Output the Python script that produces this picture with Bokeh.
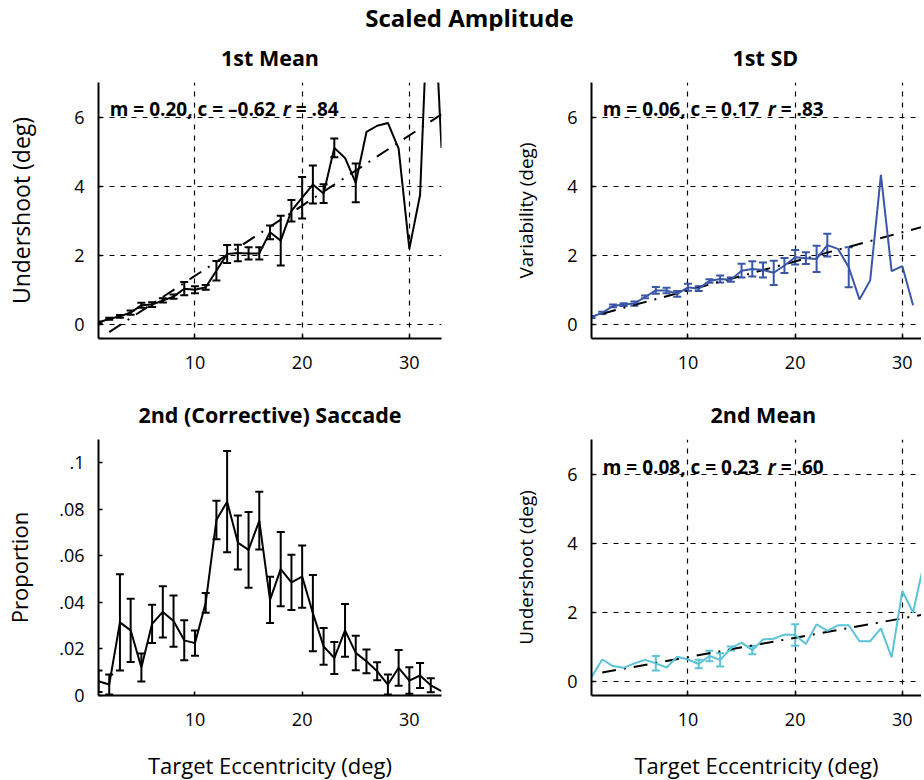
from bokeh.plotting import figure
from bokeh.models import (ColumnDataSource, Whisker, TeeHead, FixedTicker, Label, Div,
                          CustomJSTickFormatter, Range1d)
from bokeh.layouts import column, row
from bokeh.embed import file_html
from bokeh.resources import INLINE

FONT = "Open Sans"

# ---------------- data ----------------
ecc_1st = list(range(1, 34))
mean_1st = [0.06, 0.17, 0.24, 0.35, 0.56, 0.58, 0.70, 0.81, 1.04, 1.01, 1.08, 1.56, 2.04, 2.07,
            2.06, 2.06, 2.67, 2.43, 3.29, 3.67, 4.05, 3.79, 5.11, 4.82, 4.10, 5.57, 5.75, 5.83,
            5.09, 2.19, 3.75, 11.4, 5.11]
mean_1st_err = [0.03, 0.03, 0.04, 0.06, 0.07, 0.07, 0.06, 0.06, 0.19, 0.10, 0.07, 0.28, 0.26, 0.24,
                0.18, 0.18, 0.20, 0.72, 0.31, 0.60, 0.55, 0.27, 0.27, 0, 0.56, 0, 0, 0,
                0, 0, 0, 0, 0]

ecc_sd = list(range(1, 32))
sd_1st = [0.22, 0.34, 0.54, 0.58, 0.61, 0.80, 0.99, 0.99, 0.89, 1.08, 1.04, 1.26, 1.32, 1.30,
          1.56, 1.61, 1.58, 1.50, 1.71, 1.95, 1.92, 1.90, 2.30, 2.19, 1.66, 0.73, 1.28, 4.33,
          1.55, 1.69, 0.56]
sd_1st_err = [0.03, 0.03, 0.04, 0.04, 0.06, 0.04, 0.10, 0.08, 0.08, 0.10, 0.07, 0.05, 0.10, 0.06,
              0.20, 0.22, 0.22, 0.35, 0.22, 0.21, 0.17, 0.38, 0.33, 0, 0.58, 0, 0, 0,
              0, 0, 0]

ecc_prop = list(range(1, 34))
prop_2nd = [0.0061, 0.0047, 0.0314, 0.0280, 0.0120, 0.0308, 0.0359, 0.0320, 0.0237, 0.0225,
            0.0398, 0.0754, 0.0833, 0.0657, 0.0626, 0.0751, 0.0411, 0.0543, 0.0486, 0.0511,
            0.0354, 0.0211, 0.0161, 0.0280, 0.0183, 0.0147, 0.0104, 0.0047, 0.0119, 0.0064,
            0.0086, 0.0044, 0.0019]
prop_2nd_err = [0.0046, 0.0043, 0.0207, 0.0136, 0.0060, 0.0082, 0.0110, 0.0110, 0.0086, 0.0054,
                0.0042, 0.0083, 0.0218, 0.0116, 0.0163, 0.0124, 0.0099, 0.0160, 0.0119, 0.0134,
                0.0164, 0.0079, 0.0069, 0.0113, 0.0074, 0.0051, 0.0039, 0.0043, 0.0077, 0.0057,
                0.0054, 0.0030, 0]

ecc_2nd = list(range(1, 33))
mean_2nd = [0.13, 0.64, 0.45, 0.40, 0.53, 0.63, 0.53, 0.41, 0.72, 0.64, 0.51, 0.74, 0.63, 0.96,
            1.13, 0.91, 1.22, 1.24, 1.36, 1.35, 1.09, 1.66, 1.47, 1.63, 1.63, 1.17, 1.17, 1.54,
            0.70, 2.62, 2.00, 3.41]
mean_2nd_err = [0, 0, 0, 0, 0, 0, 0.21, 0, 0, 0, 0.12, 0.15, 0.19, 0.06, 0, 0.12, 0, 0, 0, 0.31,
                0, 0, 0, 0, 0, 0, 0, 0, 0, 0, 0, 0]

# regression lines (slope, intercept) as drawn, and their x extent
fit_x = [2, 33]
fit_1st_mean = (0.203, -0.62)
fit_1st_sd = (0.084, 0.15)
fit_2nd_mean = (0.056, 0.15)

stat_1st_mean = ["m = 0.20, c = \u20130.62", "r", "= .84"]
stat_1st_sd = ["m = 0.06, c = 0.17", "r", "= .83"]
stat_2nd_mean = ["m = 0.08, c = 0.23", "r", "= .60"]

x_ticks = [10, 20, 30]
deg_ticks = [0, 2, 4, 6]
prop_ticks = [0, 0.02, 0.04, 0.06, 0.08, 0.1]

BLUE = "#3a56a6"
CYAN = "#5cc3d6"

RIGHT_W = 330
RIGHT_END = 1 + RIGHT_W / 343 * 32


def panel(frame_w, x_end, y_rng, y_ticks, left, right, bottom, grid=True):
    p = figure(frame_width=frame_w, frame_height=256,
               x_range=Range1d(1, x_end), y_range=Range1d(*y_rng),
               min_border_left=left, min_border_right=right,
               min_border_top=44, min_border_bottom=bottom,
               output_backend="svg", toolbar_location=None)
    p.outline_line_color = None
    p.background_fill_color = "white"
    p.border_fill_color = "white"
    for ax in (p.xaxis[0], p.yaxis[0]):
        ax.axis_line_width = 2
        ax.axis_line_color = "black"
        ax.major_tick_in = 4
        ax.major_tick_out = 0
        ax.major_tick_line_width = 1.5
        ax.minor_tick_line_color = None
        ax.major_label_text_font = FONT
        ax.major_label_text_font_size = "18px"
        ax.major_label_text_color = "black"
        ax.axis_label_text_font = FONT
        ax.axis_label_text_font_style = "normal"
        ax.axis_label_text_color = "black"
    p.xaxis.major_label_standoff = 17
    p.yaxis.major_label_standoff = 14
    p.xaxis.ticker = FixedTicker(ticks=x_ticks)
    p.yaxis.ticker = FixedTicker(ticks=y_ticks)
    if grid:
        p.xgrid.ticker = FixedTicker(ticks=x_ticks)
        p.ygrid.ticker = FixedTicker(ticks=y_ticks)
        for g in (p.xgrid[0], p.ygrid[0]):
            g.grid_line_color = "black"
            g.grid_line_dash = "5 6"
            g.grid_line_width = 1.2
    else:
        p.xgrid.grid_line_color = None
        p.ygrid.grid_line_color = None
    return p


def set_title(p, text, align="center", offset=0):
    p.title.text = text
    p.title.align = align
    p.title.offset = offset
    p.title.text_font = FONT
    p.title.text_font_size = "21.5px"
    p.title.text_font_style = "bold"
    p.title.text_color = "black"
    p.title.standoff = 21


def errorbars(p, xs, ys, es, color):
    bx = [x for x, e in zip(xs, es) if e > 0]
    lo = [y - e for y, e in zip(ys, es) if e > 0]
    hi = [y + e for y, e in zip(ys, es) if e > 0]
    src = ColumnDataSource(dict(x=bx, lo=lo, hi=hi))
    w = Whisker(base="x", lower="lo", upper="hi", source=src, line_color=color, line_width=2,
                upper_head=TeeHead(size=8, line_color=color, line_width=2),
                lower_head=TeeHead(size=8, line_color=color, line_width=2))
    p.add_layout(w)


def fit_line(p, fit):
    m, c = fit
    p.line(fit_x, [m * x + c for x in fit_x], line_color="black", line_width=2,
           line_dash="14 8 2 8")


def stat_text(p, x, y, parts, off_r, off_rest):
    common = dict(x=x, y=y, text_font=FONT, text_font_size="19px", text_color="black",
                  text_baseline="alphabetic", text_align="left")
    p.add_layout(Label(text=parts[0], x_offset=0, text_font_style="bold", **common))
    p.add_layout(Label(text=parts[1], x_offset=off_r, text_font_style="bold italic", **common))
    p.add_layout(Label(text=parts[2], x_offset=off_rest, text_font_style="bold", **common))


# ---------- panel 1: 1st Mean ----------
p1 = panel(343, 33, (-0.4, 7), deg_ticks, 98, 57, 49)
set_title(p1, "1st Mean")
p1.yaxis.axis_label = "Undershoot (deg)"
p1.yaxis.axis_label_text_font_size = "23px"
p1.yaxis.axis_label_standoff = 34
fit_line(p1, fit_1st_mean)
p1.line(ecc_1st, mean_1st, line_color="black", line_width=2)
errorbars(p1, ecc_1st, mean_1st, mean_1st_err, "black")
stat_text(p1, 2.05, 6.22, stat_1st_mean, 173, 186)

# ---------- panel 2: 1st SD ----------
p2 = panel(RIGHT_W, RIGHT_END, (-0.4, 7), deg_ticks, 93, 0, 49)
set_title(p2, "1st SD", "left", 141)
p2.yaxis.axis_label = "Variability (deg)"
p2.yaxis.axis_label_text_font_size = "19px"
p2.yaxis.axis_label_standoff = 25
fit_line(p2, fit_1st_sd)
p2.line(ecc_sd, sd_1st, line_color=BLUE, line_width=2)
errorbars(p2, ecc_sd, sd_1st, sd_1st_err, BLUE)
stat_text(p2, 2.05, 6.22, stat_1st_sd, 165, 178)

# ---------- panel 3: 2nd (Corrective) Saccade ----------
p3 = panel(343, 33, (0, 0.11), prop_ticks, 98, 57, 80, grid=False)
set_title(p3, "2nd (Corrective) Saccade")
p3.yaxis.formatter = CustomJSTickFormatter(
    code="if (tick == 0) { return '0'; } return tick.toFixed(2).replace(/^0/, '').replace(/0$/, '');")
p3.yaxis.axis_label = "Proportion"
p3.yaxis.axis_label_text_font_size = "22px"
p3.yaxis.axis_label_standoff = 22
p3.xaxis.axis_label = "Target Eccentricity (deg)"
p3.xaxis.axis_label_text_font_size = "22px"
p3.xaxis.axis_label_standoff = 21
p3.line(ecc_prop, prop_2nd, line_color="black", line_width=2)
errorbars(p3, ecc_prop, prop_2nd, prop_2nd_err, "black")

# ---------- panel 4: 2nd Mean ----------
p4 = panel(RIGHT_W, RIGHT_END, (-0.4, 7), deg_ticks, 93, 0, 80)
set_title(p4, "2nd Mean", "left", 119)
p4.yaxis.axis_label = "Undershoot (deg)"
p4.yaxis.axis_label_text_font_size = "19px"
p4.yaxis.axis_label_standoff = 25
p4.xaxis.axis_label = "Target Eccentricity (deg)"
p4.xaxis.axis_label_text_font_size = "22px"
p4.xaxis.axis_label_standoff = 21
fit_line(p4, fit_2nd_mean)
p4.line(ecc_2nd, mean_2nd, line_color=CYAN, line_width=2)
errorbars(p4, ecc_2nd, mean_2nd, mean_2nd_err, CYAN)
stat_text(p4, 2.05, 6.2, stat_2nd_mean, 165, 178)

title_div = Div(
    text=("<div style=\"width:915px;box-sizing:border-box;padding-left:14px;text-align:center;"
          "font-family:'Open Sans';font-weight:bold;font-size:24px;line-height:26px;color:black\">"
          "Scaled Amplitude</div>"),
    width=915, height=20)

layout = column(title_div, row(p1, p2), row(p3, p4))

open("out.html", "w").write(file_html(layout, INLINE))
